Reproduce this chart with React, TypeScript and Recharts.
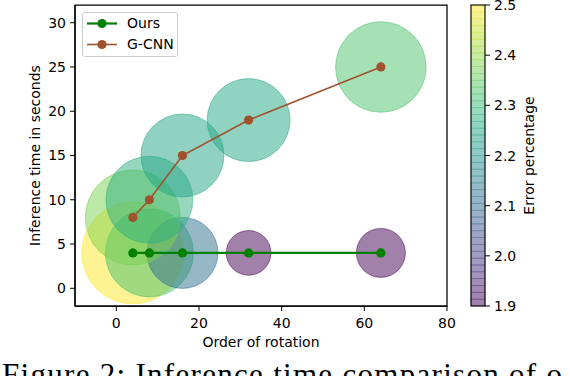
import React from 'react';
import {
  ComposedChart,
  Scatter,
  XAxis,
  YAxis,
  ZAxis,
  ReferenceArea,
  Legend,
  Customized,
} from 'recharts';

// ---------------- data ----------------
const rotationOrders = [4, 8, 16, 32, 64];
const oursTime = [4, 4, 4, 4, 4];
const gcnnTime = [8, 10, 15, 19, 25];
const oursError = [2.5, 2.32, 2.12, 1.9, 1.9];
const gcnnError = [2.38, 2.28, 2.25, 2.26, 2.33];
const oursBubble = [2600, 1940, 1260, 500, 600];
const gcnnBubble = [2260, 1890, 1720, 1720, 2050];

const xTicks = [0, 20, 40, 60, 80];
const yTicks = [0, 5, 10, 15, 20, 25, 30];
const colorbarTicks = [1.9, 2.0, 2.1, 2.2, 2.3, 2.4, 2.5];
const seriesNames = ['Ours', 'G-CNN'];
const captionText = 'Figure 2: Inference time comparison of o';

// ---------------- layout / style ----------------
const W = 570;
const H = 376;
const MARGIN = { top: 5, right: 123, bottom: 0, left: 0 };
const YAXIS_W = 75;
const XAXIS_H = 70;
const PLOT_TOP = MARGIN.top;
const PLOT_BOTTOM = H - XAXIS_H;
const CB_X = 471;
const CB_W = 14;
const CB_BANDS = 44;
const ERR_MIN = 1.9;
const ERR_MAX = 2.5;
const OURS_COLOR = '#008000';
const GCNN_COLOR = '#a0522d';

const VIRIDIS = [
  '#440154', '#482475', '#414487', '#355f8d', '#2a788e', '#21918c',
  '#22a884', '#44bf70', '#7ad151', '#bddf26', '#fde725',
];

function hexToRgb(h: string) {
  return [parseInt(h.slice(1, 3), 16), parseInt(h.slice(3, 5), 16), parseInt(h.slice(5, 7), 16)];
}
function viridis(t: number) {
  const tt = Math.max(0, Math.min(1, t)) * (VIRIDIS.length - 1);
  const i = Math.min(Math.floor(tt), VIRIDIS.length - 2);
  const f = tt - i;
  const a = hexToRgb(VIRIDIS[i]);
  const b = hexToRgb(VIRIDIS[i + 1]);
  const c = a.map((v, k) => Math.round(v + (b[k] - v) * f));
  return `rgb(${c[0]},${c[1]},${c[2]})`;
}
const errColor = (e: number) => viridis((e - ERR_MIN) / (ERR_MAX - ERR_MIN));

// build tables
const oursPoints = rotationOrders.map((x, i) => ({ x, y: oursTime[i] }));
const gcnnPoints = rotationOrders.map((x, i) => ({ x, y: gcnnTime[i] }));
const oursBubbles = rotationOrders.map((x, i) => ({ x, y: oursTime[i], z: oursBubble[i], err: oursError[i] }));
const gcnnBubbles = rotationOrders.map((x, i) => ({ x, y: gcnnTime[i], z: gcnnBubble[i], err: gcnnError[i] }));

const BubbleShape = (props: any) => {
  const { cx, cy, size, payload } = props;
  if (cx == null || cy == null) return null;
  const r = Math.sqrt((size || 0) / Math.PI);
  const c = errColor(payload.err);
  return (
    <circle cx={cx} cy={cy} r={r} fill={c} fillOpacity={0.5} stroke={c} strokeOpacity={0.5} strokeWidth={1} />
  );
};

const makeMarker = (color: string) => (props: any) => {
  const { cx, cy } = props;
  if (cx == null || cy == null) return null;
  return <circle cx={cx} cy={cy} r={4.6} fill={color} />;
};

const YLabel = () => (
  <text
    x={39.5}
    y={(PLOT_TOP + PLOT_BOTTOM) / 2}
    transform={`rotate(-90 39.5 ${(PLOT_TOP + PLOT_BOTTOM) / 2})`}
    textAnchor="middle"
    fontSize={14}
    fill="#000"
  >
    Inference time in seconds
  </text>
);

const XLabel = () => (
  <text x={MARGIN.left + YAXIS_W + (W - MARGIN.right - YAXIS_W - MARGIN.left) / 2} y={347} textAnchor="middle" fontSize={14} fill="#000">
    Order of rotation
  </text>
);

const ColorBar = () => {
  const h = PLOT_BOTTOM - PLOT_TOP;
  const yOf = (v: number) => PLOT_BOTTOM - ((v - ERR_MIN) / (ERR_MAX - ERR_MIN)) * h;
  const cy = (PLOT_TOP + PLOT_BOTTOM) / 2;
  const bandH = h / CB_BANDS;
  const bands = Array.from({ length: CB_BANDS }, (_, i) => i);
  return (
    <g>
      {bands.map((i) => {
        const c = viridis((i + 0.5) / CB_BANDS);
        return (
          <rect
            key={i}
            x={CB_X}
            y={PLOT_BOTTOM - (i + 1) * bandH}
            width={CB_W}
            height={bandH}
            fill={c}
            fillOpacity={0.5}
            stroke={c}
            strokeOpacity={0.35}
            strokeWidth={0.8}
          />
        );
      })}
      <rect x={CB_X} y={PLOT_TOP} width={CB_W} height={h} fill="none" stroke="#000" strokeWidth={1.1} />
      {colorbarTicks.map((t) => (
        <g key={t}>
          <line x1={CB_X + CB_W} x2={CB_X + CB_W + 5} y1={yOf(t)} y2={yOf(t)} stroke="#000" strokeWidth={1} />
          <text x={CB_X + CB_W + 9} y={yOf(t)} dy="0.36em" fontSize={14} fill="#000">
            {t.toFixed(1)}
          </text>
        </g>
      ))}
      <text x={533.5} y={cy} transform={`rotate(-90 533.5 ${cy})`} textAnchor="middle" fontSize={14} fill="#000">
        Error percentage
      </text>
      <text x={2} y={385} fontFamily='"Liberation Serif", serif' fontSize={31} fill="#000" textLength={560} lengthAdjust="spacing">
        {captionText}
      </text>
    </g>
  );
};

const LegendBox = () => {
  const colors = [OURS_COLOR, GCNN_COLOR];
  const widths = [2.2, 1.6];
  return (
    <div
      style={{
        boxSizing: 'border-box',
        width: 96,
        height: 45,
        border: '1px solid #cccccc',
        borderRadius: 3,
        background: 'rgba(255,255,255,0.8)',
        paddingTop: 0,
        fontFamily: '"DejaVu Sans", sans-serif',
        fontSize: 14,
        color: '#000',
      }}
    >
      {seriesNames.map((n, i) => (
        <div key={n} style={{ height: 21, display: 'flex', alignItems: 'center' }}>
          <svg width={41} height={21} style={{ marginLeft: 3, display: 'block' }}>
            <line x1={1} x2={31} y1={10.5} y2={10.5} stroke={colors[i]} strokeWidth={widths[i]} />
            <circle cx={16} cy={10.5} r={4.6} fill={colors[i]} />
          </svg>
          <span style={{ lineHeight: '21px' }}>{n}</span>
        </div>
      ))}
    </div>
  );
};

export default function App() {
  return (
    <div
      style={{
        position: 'absolute',
        left: 0,
        top: 0,
        width: W,
        height: H,
        background: '#fff',
        overflow: 'hidden',
        fontFamily: '"DejaVu Sans", sans-serif',
      }}
    >
      <ComposedChart width={W} height={H} margin={MARGIN}>
        <XAxis
          type="number"
          dataKey="x"
          domain={[-10, 80]}
          ticks={xTicks}
          allowDataOverflow
          height={XAXIS_H}
          tickSize={5}
          tickMargin={7}
          tick={{ fill: '#000', fontSize: 14 }}
          axisLine={{ stroke: '#000', strokeWidth: 1.25 }}
          tickLine={{ stroke: '#000' }}
          label={{ content: XLabel }}
        />
        <YAxis
          type="number"
          dataKey="y"
          domain={[-2, 32]}
          ticks={yTicks}
          allowDataOverflow
          width={YAXIS_W}
          tickSize={5}
          tickMargin={4}
          tick={{ fill: '#000', fontSize: 14 }}
          axisLine={{ stroke: '#000', strokeWidth: 1.25 }}
          tickLine={{ stroke: '#000' }}
          label={{ content: YLabel }}
        />
        <ZAxis zAxisId="bubble" type="number" dataKey="z" domain={[0, 2600]} range={[0, 2600 * Math.PI]} />
        <ZAxis zAxisId="pt" type="number" range={[64, 64]} />
        <Scatter data={oursBubbles} zAxisId="bubble" shape={BubbleShape} isAnimationActive={false} legendType="none" />
        <Scatter data={gcnnBubbles} zAxisId="bubble" shape={BubbleShape} isAnimationActive={false} legendType="none" />
        <Scatter
          name="Ours"
          data={oursPoints}
          zAxisId="pt"
          fill={OURS_COLOR}
          line={{ stroke: OURS_COLOR, strokeWidth: 2.2 }}
          shape={makeMarker(OURS_COLOR)}
          isAnimationActive={false}
        />
        <Scatter
          name="G-CNN"
          data={gcnnPoints}
          zAxisId="pt"
          fill={GCNN_COLOR}
          line={{ stroke: GCNN_COLOR, strokeWidth: 1.6 }}
          shape={makeMarker(GCNN_COLOR)}
          isAnimationActive={false}
        />
        <ReferenceArea x1={-10} x2={80} y1={-2} y2={32} fill="none" stroke="#000" strokeWidth={1.25} />
        <Legend
          layout="horizontal"
          verticalAlign="middle"
          align="center"
          wrapperStyle={{ left: 82, top: 12, width: 96, height: 45 }}
          content={() => <LegendBox />}
        />
        <Customized component={ColorBar} />
      </ComposedChart>
    </div>
  );
}
